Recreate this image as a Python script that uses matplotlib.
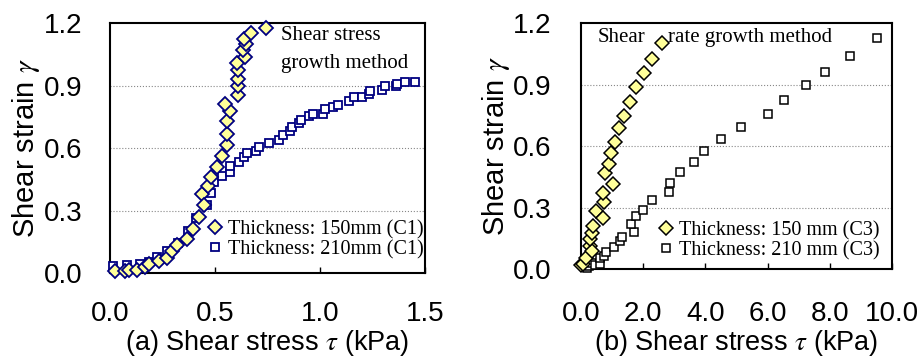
import numpy as np
import matplotlib.pyplot as plt
from matplotlib.lines import Line2D

plt.rcParams['font.family'] = ['Liberation Sans', 'DejaVu Sans']
plt.rcParams['mathtext.fontset'] = 'stix'

# (a) shear stress growth method, C1
a_150_tau = [0.024, 0.071, 0.092, 0.127, 0.167, 0.187, 0.235, 0.270, 0.295, 0.317, 0.368,
             0.397, 0.425, 0.440, 0.448, 0.468, 0.479, 0.511, 0.535, 0.556, 0.556, 0.556,
             0.571, 0.549, 0.610, 0.610, 0.610, 0.610, 0.603, 0.643, 0.632, 0.648, 0.640,
             0.670, 0.741]
a_150_gam = [0.008, 0.008, 0.013, 0.016, 0.027, 0.043, 0.056, 0.072, 0.104, 0.136, 0.163,
             0.211, 0.271, 0.378, 0.327, 0.420, 0.463, 0.508, 0.562, 0.614, 0.667, 0.731,
             0.777, 0.814, 0.857, 0.897, 0.933, 0.973, 1.008, 1.037, 1.069, 1.098, 1.122,
             1.152, 1.176]
a_210_tau = [0.016, 0.083, 0.143, 0.187, 0.225, 0.270, 0.325, 0.370, 0.410, 0.460, 0.481,
             0.495, 0.532, 0.571, 0.571, 0.616, 0.640, 0.654, 0.695, 0.711, 0.759, 0.806,
             0.825, 0.857, 0.865, 0.902, 0.910, 0.949, 0.968, 1.016, 1.024, 1.063, 1.087,
             1.140, 1.163, 1.202, 1.235, 1.238, 1.294, 1.310, 1.362, 1.368, 1.405, 1.452]
a_210_gam = [0.032, 0.037, 0.045, 0.054, 0.075, 0.107, 0.144, 0.203, 0.263, 0.327, 0.386,
             0.439, 0.466, 0.487, 0.514, 0.531, 0.555, 0.574, 0.587, 0.606, 0.626, 0.641,
             0.662, 0.681, 0.702, 0.721, 0.734, 0.753, 0.764, 0.766, 0.788, 0.798, 0.807,
             0.827, 0.843, 0.846, 0.862, 0.874, 0.881, 0.897, 0.897, 0.910, 0.916, 0.916]

# (b) shear rate growth method, C3
b_150_tau = [0.0, 0.08, 0.171, 0.278, 0.353, 0.278, 0.353, 0.385, 0.471, 0.706, 0.749,
             0.706, 0.781, 0.909, 0.963, 1.016, 1.102, 1.219, 1.369, 1.583, 1.775, 2.032,
             2.278, 2.599]
b_150_gam = [0.018, 0.025, 0.054, 0.110, 0.086, 0.146, 0.178, 0.211, 0.281, 0.248, 0.326,
             0.370, 0.467, 0.512, 0.568, 0.414, 0.621, 0.686, 0.746, 0.816, 0.886, 0.957,
             1.027, 1.104]
b_210_tau = [0.193, 0.246, 0.353, 0.460, 0.599, 0.620, 0.727, 0.813, 1.048, 1.262, 1.316,
             1.690, 1.604, 1.765, 1.989, 2.299, 2.834, 2.877, 3.187, 3.636, 3.968, 4.503,
             5.144, 6.000, 6.524, 7.251, 7.840, 8.642, 9.519]
b_210_gam = [0.005, 0.013, 0.029, 0.021, 0.026, 0.054, 0.062, 0.081, 0.107, 0.135, 0.156,
             0.180, 0.219, 0.259, 0.289, 0.336, 0.375, 0.422, 0.475, 0.524, 0.577, 0.632,
             0.694, 0.756, 0.827, 0.897, 0.959, 1.038, 1.129]

yticks = [0.0, 0.3, 0.6, 0.9, 1.2]
a_xticks = [0.0, 0.5, 1.0, 1.5]
b_xticks = [0.0, 2.0, 4.0, 6.0, 8.0, 10.0]

yellow = '#FFFF99'
serif = ['Liberation Serif', 'DejaVu Serif']
fs = 20

fig = plt.figure(figsize=(9.19, 3.58), dpi=100)
ax1 = fig.add_axes([0.1197, 0.2374, 0.3428, 0.698])
ax2 = fig.add_axes([0.6322, 0.2486, 0.3384, 0.687])


def style_axis(ax, xticks, xmax, xlabel, xpad, ypad):
    ax.set_xlim(0, xmax)
    ax.set_ylim(0, 1.2)
    ax.set_xticks(xticks)
    ax.set_xticklabels([f'{t:.1f}' for t in xticks])
    ax.set_yticks(yticks)
    ax.set_yticklabels([f'{t:.1f}' for t in yticks])
    ax.tick_params(axis='x', direction='in', length=4, width=1, pad=xpad, labelsize=fs)
    ax.tick_params(axis='y', length=0, pad=ypad, labelsize=fs)
    for s in ax.spines.values():
        s.set_linewidth(1.5)
    for g in yticks[1:-1]:
        ax.axhline(g, color='#888888', lw=0.8, ls=':', zorder=0)
    ax.set_xlabel(xlabel, fontsize=19.5, labelpad=1)
    ax.set_ylabel(r'Shear strain $\gamma$', fontsize=21, labelpad=1)


# panel (a)
ax1.plot(a_210_tau, a_210_gam, 's', ms=6, mfc='white', mec='#000080', mew=1.3,
         ls='none', clip_on=False, zorder=3)
ax1.plot(a_150_tau, a_150_gam, 'D', ms=7, mfc=yellow, mec='#000080', mew=1.3,
         ls='none', clip_on=False, zorder=4)
style_axis(ax1, a_xticks, 1.5, r'(a) Shear stress $\tau$ (kPa)', 20, 20)
ax1.text(0.815, 1.075, 'Shear stress\ngrowth method', fontsize=15, family=serif,
         va='center', ha='left', linespacing=1.65)
h1 = [Line2D([], [], marker='D', ms=7, mfc=yellow, mec='#000080', mew=1.3, ls='none'),
      Line2D([], [], marker='s', ms=6, mfc='white', mec='#000080', mew=1.3, ls='none')]
ax1.legend(h1, ['Thickness: 150mm (C1)', 'Thickness: 210mm (C1)'], loc='lower right',
           bbox_to_anchor=(0.995, 0.055), frameon=False, handlelength=0.7, handletextpad=0.3,
           labelspacing=0.05, borderaxespad=0, borderpad=0,
           prop={'family': serif, 'size': 14.5})

# panel (b)
ax2.plot(b_210_tau, b_210_gam, 's', ms=6, mfc='white', mec='black', mew=1.1,
         ls='none', clip_on=False, zorder=3)
ax2.plot(b_150_tau, b_150_gam, 'D', ms=7, mfc=yellow, mec='black', mew=1.1,
         ls='none', clip_on=False, zorder=4)
style_axis(ax2, b_xticks, 10.0, r'(b) Shear stress $\tau$ (kPa)', 23, 21)
ax2.text(0.55, 1.13, 'Shear', fontsize=15, family=serif, va='center', ha='left')
ax2.text(2.8, 1.13, 'rate growth method', fontsize=15, family=serif, va='center', ha='left')
h2 = [Line2D([], [], marker='D', ms=7, mfc=yellow, mec='black', mew=1.1, ls='none'),
      Line2D([], [], marker='s', ms=6, mfc='white', mec='black', mew=1.1, ls='none')]
ax2.legend(h2, ['Thickness: 150 mm (C3)', 'Thickness: 210 mm (C3)'], loc='lower right',
           bbox_to_anchor=(0.96, 0.035), frameon=False, handlelength=0.7, handletextpad=0.3,
           labelspacing=0.05, borderaxespad=0, borderpad=0,
           prop={'family': serif, 'size': 14.5})

fig.savefig('out.png', dpi=100)
